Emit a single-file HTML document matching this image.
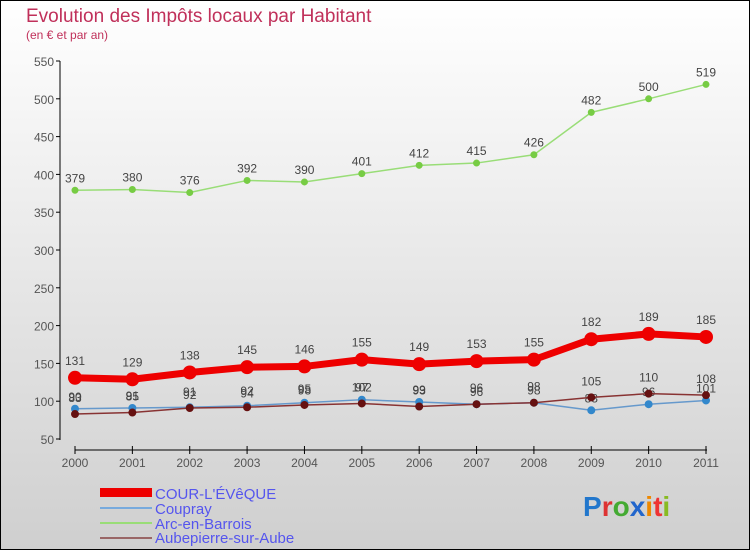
<!DOCTYPE html>
<html><head><meta charset="utf-8"><style>
body{margin:0;width:750px;height:550px;overflow:hidden;font-family:"Liberation Sans",sans-serif}
</style></head><body>
<svg width="750" height="550" xmlns="http://www.w3.org/2000/svg">
<defs><linearGradient id="bg" x1="0" y1="0" x2="0" y2="1"><stop offset="0" stop-color="#ffffff"/><stop offset="1" stop-color="#cfcfcf"/></linearGradient></defs>
<rect x="0.5" y="0.5" width="749" height="549" fill="url(#bg)" stroke="#000"/>
<text x="26" y="22" font-size="19" fill="#c0305a">Evolution des Impôts locaux par Habitant</text>
<text x="26" y="39" font-size="12" fill="#c0305a">(en € et par an)</text>
<g id="axes"></g><g id="series"></g>
<g font-size="15" fill="#5555ee">
<rect x="100" y="488" width="52" height="9" fill="#ee0000"/>
<text x="155" y="499">COUR-L'ÉVêQUE</text>
<rect x="100" y="507" width="52" height="2" fill="#77aadd"/>
<text x="155" y="514">Coupray</text>
<rect x="100" y="522" width="52" height="2" fill="#99dd77"/>
<text x="155" y="529">Arc-en-Barrois</text>
<rect x="100" y="537" width="52" height="2" fill="#996666"/>
<text x="155" y="543">Aubepierre-sur-Aube</text>
</g>
<g font-size="28" font-weight="bold">
<text x="583" y="516"><tspan fill="#2277cc">P</tspan><tspan fill="#dd3333">r</tspan><tspan fill="#44aa33">o</tspan><tspan fill="#2266cc">x</tspan><tspan fill="#ee8800">i</tspan><tspan fill="#ee3333">t</tspan><tspan fill="#88bb22">i</tspan></text>
</g>
</svg>
<script>
const years=["2000","2001","2002","2003","2004","2005","2006","2007","2008","2009","2010","2011"];
const yTicks=[50,100,150,200,250,300,350,400,450,500,550];
const cour=[131,129,138,145,146,155,149,153,155,182,189,185];
const coupray=[90,91,92,94,98,102,99,96,98,88,96,101];
const arc=[379,380,376,392,390,401,412,415,426,482,500,519];
const aube=[83,85,91,92,95,97,93,96,98,105,110,108];
const NS="http://www.w3.org/2000/svg";
const xs=i=>75+i*(706-75)/(years.length-1);
const ys=v=>439-(v-50)*(439-61)/500;
function mk(t,a,p){const e=document.createElementNS(NS,t);for(const k in a)e.setAttribute(k,a[k]);p.appendChild(e);return e;}
const ax=document.getElementById('axes');
const yl=mk('line',{x1:60,y1:61,x2:60,y2:440,stroke:'#000'},ax);


yTicks.forEach(v=>{
 const y=ys(v);
 mk('line',{x1:56,y1:y,x2:60,y2:y,stroke:'#000'},ax);
 const t=mk('text',{x:54,y:y+5,'text-anchor':'end','font-size':12,fill:'#555'},ax);t.textContent=v;
 
 
});
const xl=mk('line',{x1:75,y1:450,x2:707,y2:450,stroke:'#000'},ax);


years.forEach((yr,i)=>{
 const x=xs(i);
 mk('line',{x1:x,y1:446,x2:x,y2:454,stroke:'#000'},ax);
 const t=mk('text',{x:x,y:467,'text-anchor':'middle','font-size':12,fill:'#555'},ax);t.textContent=yr;
 
 
});
const sg=document.getElementById('series');
function draw(name,data,color,w,r,dot,lab){
 const g=mk('g',{},sg);
 
 
 const pl=mk('polyline',{points:data.map((v,i)=>xs(i)+','+ys(v)).join(' '),fill:'none',stroke:color,'stroke-width':w,'stroke-linejoin':'round'},g);
 
 
 data.forEach((v,i)=>{
  const c=mk('circle',{cx:xs(i),cy:ys(v),r:r,fill:dot,stroke:dot},g);
  
  
  const t=mk('text',{x:xs(i),y:ys(v)-lab,'text-anchor':'middle','font-size':12,fill:'#444'},g);t.textContent=v;
  
  
 });
}
draw('arc',arc,'#99dd77',1.5,3,'#77cc44',8);
draw('coupray',coupray,'#6699cc',1.5,3.5,'#3388cc',8);
draw('aube',aube,'#883333',1.5,3.5,'#661111',12);
draw('cour',cour,'#ee0000',7,6.5,'#ee0000',13);
</script>
</body></html>
